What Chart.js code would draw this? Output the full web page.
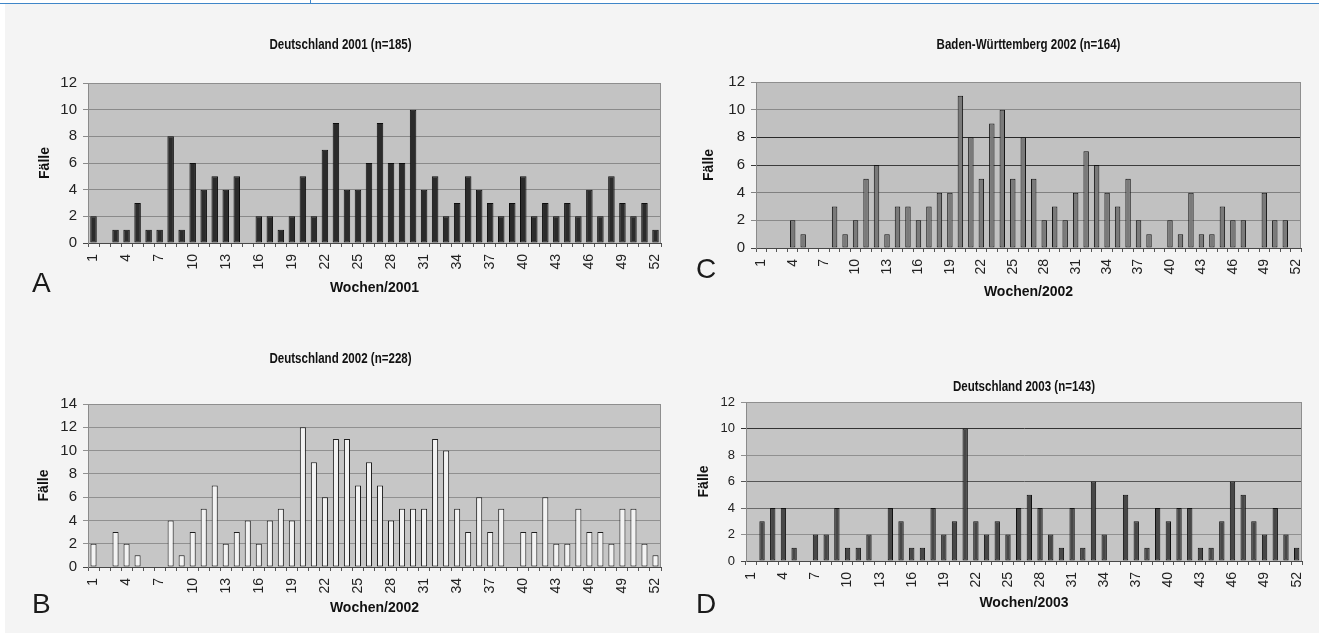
<!DOCTYPE html>
<html lang="de">
<head>
<meta charset="utf-8">
<title>Fälle pro Woche</title>
<script src="https://cdn.jsdelivr.net/npm/chart.js@4.4.1/dist/chart.umd.min.js"></script>
<style>
  html, body { margin: 0; padding: 0; }
  body { width: 1319px; height: 633px; background: #f4f4f4; position: relative; overflow: hidden;
         font-family: 'Liberation Sans', Arial, sans-serif; }
  .above { position: absolute; left: 0; top: 0; width: 1319px; height: 3px; background: #fff; }
  .topline { position: absolute; left: 0; top: 3px; width: 1319px; height: 1px; background: #3f86c8; }
  .toptick { position: absolute; left: 310px; top: 0; width: 1px; height: 4px; background: #3f86c8; }
  .leftstrip { position: absolute; left: 0; top: 4px; width: 5px; height: 629px; background: #fff; }
  canvas { position: absolute; }
  .tag { position: absolute; font-size: 28px; line-height: 28px; color: #1a1a1a; }
</style>
</head>
<body>
<div class="above"></div>
<div class="topline"></div>
<div class="toptick"></div>
<div class="leftstrip"></div>

<canvas id="chartA" width="645" height="274" style="left:20px;top:27px"></canvas>
<canvas id="chartB" width="645" height="278" style="left:20px;top:341px"></canvas>
<canvas id="chartC" width="629" height="277" style="left:690px;top:27px"></canvas>
<canvas id="chartD" width="634" height="246" style="left:685px;top:369px"></canvas>

<div class="tag" style="left:32px;top:269px">A</div>
<div class="tag" style="left:32px;top:590px">B</div>
<div class="tag" style="left:696px;top:255px">C</div>
<div class="tag" style="left:696px;top:590px">D</div>

<script>
const weeks = [1, 2, 3, 4, 5, 6, 7, 8, 9, 10, 11, 12, 13, 14, 15, 16, 17, 18, 19, 20, 21, 22, 23, 24, 25, 26,
               27, 28, 29, 30, 31, 32, 33, 34, 35, 36, 37, 38, 39, 40, 41, 42, 43, 44, 45, 46, 47, 48, 49, 50, 51, 52];

// Deutschland 2001 (n=185)
const cases2001 = [2, 0, 1, 1, 3, 1, 1, 8, 1, 6, 4, 5, 4, 5, 0, 2, 2, 1, 2, 5, 2, 7, 9, 4, 4, 6,
                   9, 6, 6, 10, 4, 5, 2, 3, 5, 4, 3, 2, 3, 5, 2, 3, 2, 3, 2, 4, 2, 5, 3, 2, 3, 1];
// Deutschland 2002 (n=228)
const cases2002 = [2, 0, 3, 2, 1, 0, 0, 4, 1, 3, 5, 7, 2, 3, 4, 2, 4, 5, 4, 12, 9, 6, 11, 11, 7, 9,
                   7, 4, 5, 5, 5, 11, 10, 5, 3, 6, 3, 5, 0, 3, 3, 6, 2, 2, 5, 3, 3, 2, 5, 5, 2, 1];
// Baden-Württemberg 2002 (n=164)
const casesBW2002 = [0, 0, 0, 2, 1, 0, 0, 3, 1, 2, 5, 6, 1, 3, 3, 2, 3, 4, 4, 11, 8, 5, 9, 10, 5, 8,
                     5, 2, 3, 2, 4, 7, 6, 4, 3, 5, 2, 1, 0, 2, 1, 4, 1, 1, 3, 2, 2, 0, 4, 2, 2, 0];
// Deutschland 2003 (n=143)
const cases2003 = [0, 3, 4, 4, 1, 0, 2, 2, 4, 1, 1, 2, 0, 4, 3, 1, 1, 4, 2, 3, 10, 3, 2, 3, 2, 4,
                   5, 4, 2, 1, 4, 1, 6, 2, 0, 5, 3, 1, 4, 3, 4, 4, 1, 1, 3, 6, 5, 3, 2, 4, 2, 1];

const family = "'Liberation Sans', Arial, sans-serif";
const titleSize = 15;
const titleTop = 9;

// plot background and frame, like the grey Excel plot area
const plotFrame = {
    id: 'plotFrame',
    beforeDraw(chart, args, opts) {
        const a = chart.chartArea;
        const c = chart.ctx;
        c.save();
        c.fillStyle = opts.bg;
        c.fillRect(a.left, a.top, a.right - a.left, a.bottom - a.top);
        c.restore();
    },
    afterDraw(chart, args, opts) {
        const a = chart.chartArea;
        const c = chart.ctx;
        c.save();
        c.strokeStyle = opts.edge;
        c.lineWidth = 1;
        c.beginPath();
        c.moveTo(a.left, a.top + 0.5);
        c.lineTo(a.right - 0.5, a.top + 0.5);
        c.lineTo(a.right - 0.5, a.bottom);
        c.stroke();
        c.restore();
    }
};

// the original titles use a narrow bold face: the title box keeps its place in the
// layout, the text itself is drawn squeezed sideways
const narrowTitle = {
    id: 'narrowTitle',
    afterDraw(chart) {
        const box = chart.titleBlock;
        if (!box) return;
        const c = chart.ctx;
        const cx = (box.left + box.right) / 2;
        const cy = box.top + titleTop + titleSize * 1.2 / 2;
        c.save();
        c.translate(cx, cy);
        c.scale(0.77, 1);
        c.font = 'bold ' + titleSize + 'px ' + family;
        c.fillStyle = '#111';
        c.textAlign = 'center';
        c.textBaseline = 'middle';
        c.fillText(chart.options.plugins.title.text, 0, 0);
        c.restore();
    }
};

function weekChart(canvasId, o) {
    const ctx = document.getElementById(canvasId).getContext('2d');
    return new Chart(ctx, {
        type: 'bar',
        data: {
            labels: weeks,
            datasets: [{
                data: o.values,
                backgroundColor: o.fill,
                borderColor: o.edge,
                borderWidth: 1,
                borderSkipped: false,
                barPercentage: o.barPct,
                categoryPercentage: 1
            }]
        },
        options: {
            responsive: false,
            animation: false,
            layout: { padding: { left: 0, right: o.padRight, top: 0, bottom: 0 } },
            plugins: {
                legend: { display: false },
                tooltip: { enabled: false },
                title: {
                    display: true,
                    text: o.title,
                    fullSize: o.titleFull,
                    color: 'rgba(0,0,0,0)',
                    font: { size: titleSize, weight: 'bold', family: family },
                    padding: { top: titleTop, bottom: o.titleGap }
                },
                plotFrame: { bg: o.bg, edge: '#8e8e8e' }
            },
            scales: {
                x: {
                    offset: true,
                    grid: { offset: true, drawOnChartArea: false, drawTicks: true, tickLength: 4, color: '#555' },
                    border: { color: '#484848', width: 1 },
                    ticks: {
                        autoSkip: false,
                        minRotation: 90,
                        maxRotation: 90,
                        padding: 7,
                        color: '#222',
                        font: { size: 14, family: family },
                        callback: (v, i) => (i % 3 === 0 ? String(weeks[i]) : '')
                    },
                    title: {
                        display: true,
                        text: o.xTitle,
                        color: '#111',
                        font: { size: 14, weight: 'bold', family: family },
                        padding: { top: 0, bottom: o.xTitlePad }
                    },
                    afterFit: s => {
                        s.height = o.xAxisH;
                        s.paddingLeft = 0;
                        s.paddingRight = 0;
                    }
                },
                y: {
                    min: 0,
                    max: o.yMax,
                    ticks: { stepSize: 2, padding: 6, color: '#222', font: { size: o.yFont, family: family } },
                    grid: { color: o.gridColor, tickLength: 5, drawTicks: true },
                    border: { color: '#8a8a8a' },
                    title: {
                        display: true,
                        text: 'Fälle',
                        color: '#111',
                        font: { size: 14, weight: 'bold', family: family },
                        padding: { top: o.yTitlePad, bottom: 0 }
                    },
                    afterFit: s => { s.width = o.yAxisW; }
                }
            }
        },
        plugins: [plotFrame, narrowTitle]
    });
}

function gridBy(map, fallback) {
    return c => (c.tick && map[c.tick.value] !== undefined ? map[c.tick.value] : fallback);
}

function init() {
    weekChart('chartA', {
        values: cases2001, title: 'Deutschland 2001 (n=185)', xTitle: 'Wochen/2001',
        fill: '#2b2b2b', edge: '#0d0d0d', barPct: 0.59, bg: '#c3c3c3', yMax: 12, yFont: 15,
        gridColor: gridBy({ 0: '#484848' }, '#8a8a8a'),
        titleFull: true, padRight: 4, titleGap: 29, xAxisH: 58, xTitlePad: 4.6, yAxisW: 68, yTitlePad: 16.6
    });
    weekChart('chartB', {
        values: cases2002, title: 'Deutschland 2002 (n=228)', xTitle: 'Wochen/2002',
        fill: '#f3f3f3', edge: '#1e1e1e', barPct: 0.55, bg: '#c6c6c6', yMax: 14, yFont: 15,
        gridColor: gridBy({ 0: '#484848' }, '#909090'),
        titleFull: true, padRight: 4, titleGap: 36, xAxisH: 52, xTitlePad: 2.6, yAxisW: 68, yTitlePad: 15.6
    });
    weekChart('chartC', {
        values: casesBW2002, title: 'Baden-Württemberg 2002 (n=164)', xTitle: 'Wochen/2002',
        fill: '#7a7a7a', edge: '#151515', barPct: 0.52, bg: '#c1c1c1', yMax: 12, yFont: 15,
        gridColor: gridBy({ 0: '#484848', 8: '#2a2a2a', 6: '#3c3c3c', 4: '#808080' }, '#8a8a8a'),
        titleFull: false, padRight: 18, titleGap: 28, xAxisH: 56, xTitlePad: 3.6, yAxisW: 66, yTitlePad: 10.6
    });
    weekChart('chartD', {
        values: cases2003, title: 'Deutschland 2003 (n=143)', xTitle: 'Wochen/2003',
        fill: '#474747', edge: '#111111', barPct: 0.5, bg: '#c5c5c5', yMax: 12, yFont: 13,
        gridColor: gridBy({ 0: '#484848', 10: '#333333', 6: '#555555', 4: '#6a6a6a' }, '#909090'),
        titleFull: false, padRight: 17, titleGap: 6, xAxisH: 54, xTitlePad: 3.6, yAxisW: 61, yTitlePad: 10.6
    });
}

if (typeof Chart !== 'undefined') {
    init();
} else {
    window.addEventListener('load', init);
}
</script>
</body>
</html>
